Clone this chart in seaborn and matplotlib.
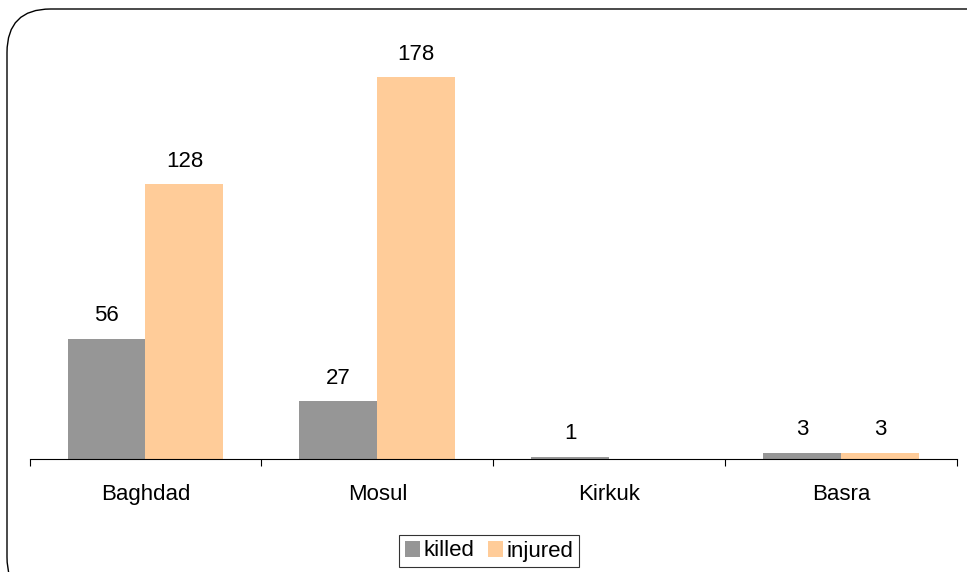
import matplotlib
matplotlib.use("Agg")
import matplotlib.pyplot as plt
import seaborn as sns
import pandas as pd
from matplotlib.patches import FancyBboxPatch

categories = ["Baghdad", "Mosul", "Kirkuk", "Basra"]
series_names = ["killed", "injured"]
killed = [56, 27, 1, 3]
injured = [128, 178, 0, 3]
colors = ["#969696", "#FFCC99"]

df = pd.DataFrame({
    "city": categories * 2,
    "series": [series_names[0]] * 4 + [series_names[1]] * 4,
    "value": killed + injured,
})

sns.set_style("white")
plt.rcParams["font.family"] = ["Liberation Sans", "DejaVu Sans"]
plt.rcParams["text.color"] = "#000000"
plt.rcParams["xtick.color"] = "#000000"
plt.rcParams["xtick.labelcolor"] = "#000000"
plt.rcParams["xtick.bottom"] = True

FS = 16

W, H = 967, 572
fig = plt.figure(figsize=(W / 100, H / 100), dpi=100)
ax = fig.add_axes([29.5 / W, (H - 459) / H, (957 - 29.5) / W, (459 - 30) / H])

sns.barplot(data=df, x="city", y="value", hue="series", order=categories,
            hue_order=series_names, palette=colors, width=0.672,
            saturation=1, ax=ax, legend=True, edgecolor="none", linewidth=0)

ax.set_xlim(-0.5, 3.5)
ax.set_ylim(0, 200)
ax.set_xlabel("")
ax.set_ylabel("")
ax.set_yticks([])
for s in ["top", "right", "left"]:
    ax.spines[s].set_visible(False)
ax.spines["bottom"].set_color("#000000")
ax.spines["bottom"].set_linewidth(0.8)
ax.set_xticks([0, 1, 2, 3])
ax.set_xticklabels(categories, fontsize=FS, color="#000000")
ax.tick_params(axis="x", which="major", length=0, pad=18)
ax.set_xticks([-0.5, 0.5, 1.5, 2.5, 3.5], minor=True)
ax.tick_params(axis="x", which="minor", bottom=True, length=5, width=0.8,
               color="#000000", direction="out")
ax.patch.set_alpha(0)

for cont, vals in zip(ax.containers, [killed, injured]):
    labels = [str(v) if v != 0 else "" for v in vals]
    ax.bar_label(cont, labels=labels, padding=9, fontsize=FS, color="#000000")

leg = ax.legend(loc="center", bbox_to_anchor=(489 / W, (H - 551) / H),
                bbox_transform=fig.transFigure, ncol=2, frameon=True,
                fancybox=False, fontsize=FS, handlelength=0.7, handleheight=0.7,
                handletextpad=0.15, columnspacing=0.6, borderpad=0.25,
                borderaxespad=0)
leg.get_frame().set_edgecolor("#000000")
leg.get_frame().set_linewidth(0.8)
for t in leg.get_texts():
    t.set_color("#000000")

border = FancyBboxPatch((7 / W, -0.05), 1.2, (H - 9) / H + 0.05,
                        boxstyle="round,pad=0,rounding_size=0.045",
                        transform=fig.transFigure, fill=False,
                        edgecolor="#000000", linewidth=1.0,
                        mutation_aspect=W / H)
fig.patches.append(border)

fig.savefig("out.png", dpi=100)
